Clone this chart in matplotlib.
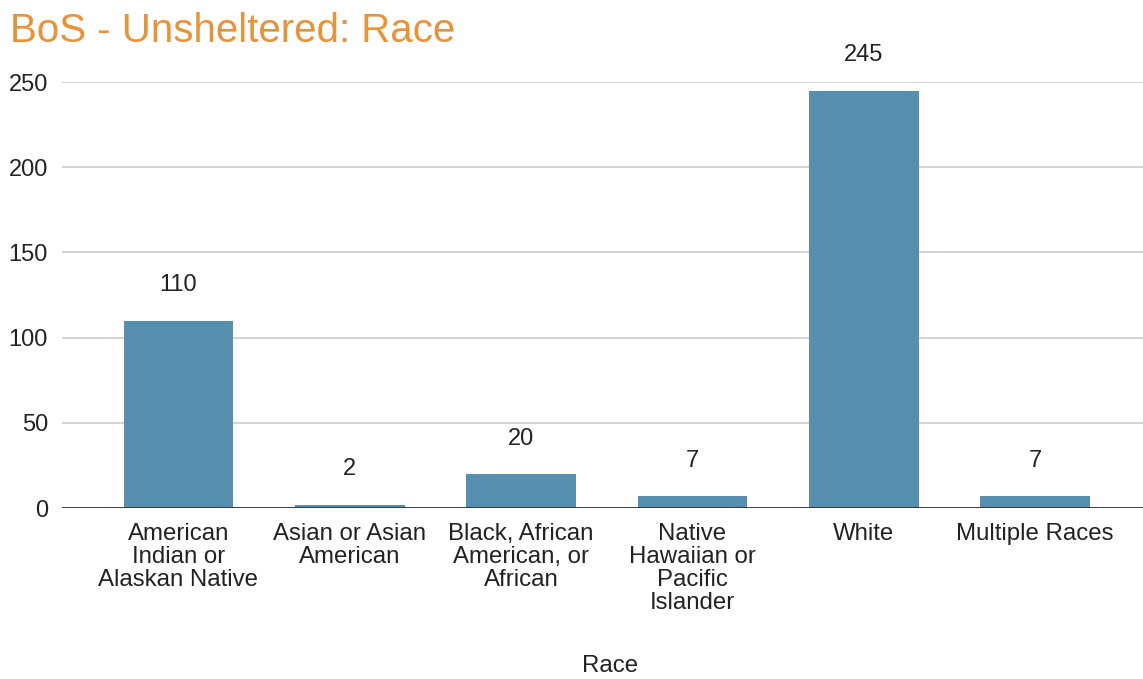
import matplotlib.pyplot as plt

plt.rcParams['font.family'] = ['Liberation Sans', 'DejaVu Sans']

categories = ["American\nIndian or\nAlaskan Native", "Asian or Asian\nAmerican",
              "Black, African\nAmerican, or\nAfrican", "Native\nHawaiian or\nPacific\nIslander",
              "White", "Multiple Races"]
values = [110, 2, 20, 7, 245, 7]
yticks = [0, 50, 100, 150, 200, 250]

fig = plt.figure(figsize=(11.43, 6.79), dpi=100)
ax = fig.add_axes([0.0542, 0.2518, 0.9458, 0.6274])

x = list(range(len(categories)))
ax.bar(x, values, width=0.64, color="#5790ae", zorder=3)

for xi, v in zip(x, values):
    ax.annotate(str(v), (xi, v), xytext=(0, 25.5), textcoords="offset points",
                ha="center", va="center", fontsize=17, color="#222222",
                annotation_clip=False)

ax.set_xlim(-0.68, 5.63)
ax.set_ylim(0, 250)
ax.set_yticks(yticks)
ax.set_xticks(x)
ax.set_xticklabels(categories, fontsize=17.3, color="#222222", linespacing=1.06, va="top")
ax.tick_params(axis="y", labelsize=17, labelcolor="#222222", length=0, pad=10)
ax.tick_params(axis="x", length=0, pad=10.5)
ax.grid(axis="y", color="#cccccc", linewidth=1.2, zorder=0)
for s in ax.spines.values():
    s.set_visible(False)
ax.axhline(0, color="#333333", linewidth=1.3, zorder=4)

fig.text(610 / 1143, 1 - 666 / 679, "Race", fontsize=17.3, color="#222222",
         ha="center", va="center")

fig.text(0.009, 0.955, "BoS - Unsheltered: Race", fontsize=29, color="#e8923a",
         ha="left", va="center")

fig.savefig("out.png", dpi=100)
